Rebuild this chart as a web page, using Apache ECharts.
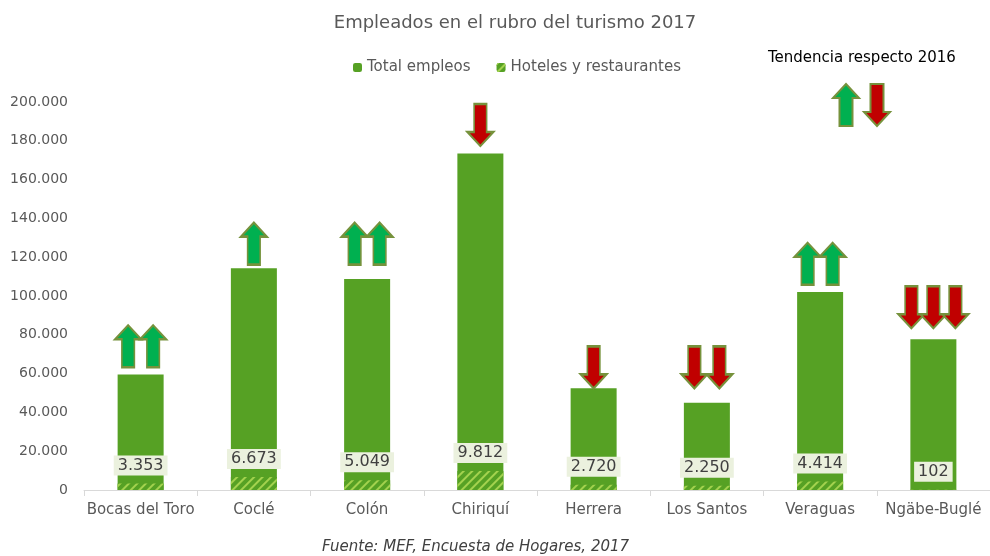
<!DOCTYPE html>
<html>
<head>
<meta charset="utf-8">
<script src="https://cdn.jsdelivr.net/npm/echarts@6/dist/echarts.min.js"></script>
<style>
  html, body { margin: 0; padding: 0; background: #fff; }
  #chart { width: 990px; height: 556px; }
</style>
</head>
<body>
<div id="chart"></div>
<script>
// datos
const categorias = ['Bocas del Toro', 'Coclé', 'Colón', 'Chiriquí', 'Herrera', 'Los Santos', 'Veraguas', 'Ngäbe-Buglé']
const totalEmpleos = [59600, 114300, 108800, 173500, 52500, 45000, 102100, 77700]
const hotelesRest = [3353, 6673, 5049, 9812, 2720, 2250, 4414, 102]
// tendencia respecto 2016 (flechas por provincia)
const tendencias = [['up', 'up'], ['up'], ['up', 'up'], ['down'], ['down'], ['down', 'down'], ['up', 'up'], ['down', 'down', 'down']]
const alturaFlechas = [74100, 127000, 127000, 188100, 63200, 63200, 116600, 94200]
const ticksY = [0, 20000, 40000, 60000, 80000, 100000, 120000, 140000, 160000, 180000, 200000]

const FONT = 'DejaVu Sans'
const VERDE = '#56a124'
const BORDE_FLECHA = '#76923c'
const flechaArriba = 'path://M13.5,0 L27,14 L20,14 L20,42 L7,42 L7,14 L0,14 Z'
const flechaAbajo = 'path://M7,0 L20,0 L20,28 L27,28 L13.5,42 L0,28 L7,28 Z'
const ptsArriba = [[13, 0], [26, 14], [19.5, 14], [19.5, 42], [6.5, 42], [6.5, 14], [0, 14]]
const ptsAbajo = [[6.5, 0], [19.5, 0], [19.5, 28], [26, 28], [13, 42], [0, 28], [6.5, 28]]

function miles(v) {
  return String(Math.round(v)).replace(/\B(?=(\d{3})+(?!\d))/g, '.')
}

// una entrada por flecha, desplazadas en x alrededor del centro de la categoria
const flechas = []
tendencias.forEach((lista, i) => {
  const paso = lista.length > 2 ? 22 : 25
  lista.forEach((t, j) => {
    const dx = (j - (lista.length - 1) / 2) * paso
    flechas.push({
      value: [i, alturaFlechas[i]],
      symbol: t === 'up' ? flechaArriba : flechaAbajo,
      symbolOffset: [dx, 0],
      itemStyle: { color: t === 'up' ? '#00b050' : '#c00000' }
    })
  })
})

const chart = echarts.init(document.getElementById('chart'))
chart.setOption({
  animation: false,
  backgroundColor: '#fff',
  title: {
    text: 'Empleados en el rubro del turismo 2017',
    left: 510, top: 9, textAlign: 'center',
    textStyle: { fontFamily: FONT, fontSize: 18, fontWeight: 'normal', color: '#595959' }
  },
  legend: {
    data: ['Total empleos', 'Hoteles y restaurantes'],
    left: 348, top: 55,
    itemWidth: 9, itemHeight: 9, itemGap: 26,
    textStyle: { fontFamily: FONT, fontSize: 15, color: '#595959' }
  },
  grid: { left: 84, right: -12, top: 102, bottom: 66 },
  xAxis: {
    type: 'category',
    data: categorias,
    axisLine: { lineStyle: { color: '#d9d9d9' } },
    axisTick: { show: true, length: 6, lineStyle: { color: '#d9d9d9' } },
    axisLabel: { fontFamily: FONT, fontSize: 15, color: '#595959', margin: 13, interval: 0 }
  },
  yAxis: {
    type: 'value',
    min: ticksY[0], max: ticksY[ticksY.length - 1], interval: ticksY[1] - ticksY[0],
    axisLine: { show: false },
    axisTick: { show: false },
    splitLine: { show: false },
    axisLabel: { fontFamily: FONT, fontSize: 14, color: '#595959', margin: 16, formatter: miles }
  },
  graphic: [
    {
      type: 'text', x: 768, y: 51,
      style: { text: 'Tendencia respecto 2016', fontFamily: FONT, fontSize: 15, fill: '#000' }
    },
    {
      type: 'polygon', x: 833, y: 84,
      shape: { points: ptsArriba },
      style: { fill: '#00b050', stroke: BORDE_FLECHA, lineWidth: 2 }
    },
    {
      type: 'polygon', x: 864, y: 84,
      shape: { points: ptsAbajo },
      style: { fill: '#c00000', stroke: BORDE_FLECHA, lineWidth: 2 }
    },
    {
      type: 'text', x: 322, y: 540,
      style: { text: 'Fuente: MEF, Encuesta de Hogares, 2017', fontFamily: FONT, fontSize: 15, fontStyle: 'italic', fill: '#404040' }
    }
  ],
  series: [
    {
      name: 'Total empleos',
      type: 'bar',
      data: totalEmpleos,
      barWidth: 46,
      itemStyle: { color: VERDE }
    },
    {
      name: 'Hoteles y restaurantes',
      type: 'bar',
      data: hotelesRest,
      barWidth: 46,
      barGap: '-100%',
      itemStyle: {
        color: VERDE,
        decal: {
          symbol: 'rect',
          color: '#a3d24e',
          dashArrayX: [1, 0],
          dashArrayY: [2, 4],
          rotation: -Math.PI / 4
        }
      },
      label: {
        show: true,
        position: 'top',
        distance: 8,
        formatter: p => miles(p.value),
        fontFamily: FONT,
        fontSize: 16,
        color: '#404040',
        backgroundColor: '#ebf1de',
        padding: [2, 4]
      }
    },
    {
      name: 'Tendencia',
      type: 'scatter',
      data: flechas,
      symbolSize: [26, 42],
      z: 5,
      itemStyle: { borderColor: BORDE_FLECHA, borderWidth: 2, opacity: 1 }
    }
  ]
})
</script>
</body>
</html>
